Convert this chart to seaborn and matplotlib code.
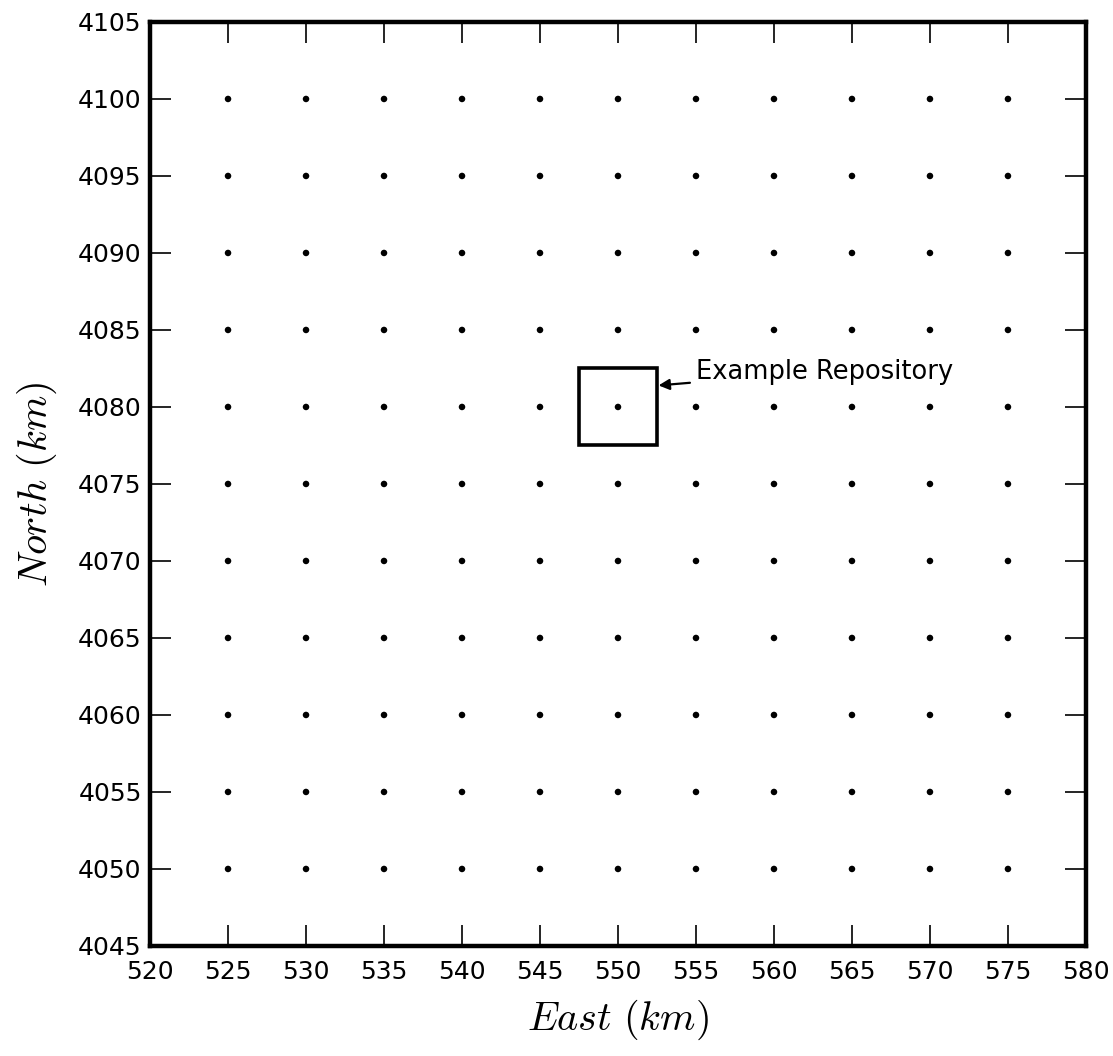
import numpy as np
import pandas as pd
import matplotlib
matplotlib.use("Agg")
import matplotlib.pyplot as plt
import seaborn as sns
from matplotlib.patches import Rectangle

# Data
east_km = [525, 530, 535, 540, 545, 550, 555, 560, 565, 570, 575]
north_km = [4050, 4055, 4060, 4065, 4070, 4075, 4080, 4085, 4090, 4095, 4100]
repo_center = (550, 4080)
repo_size = 5
x_ticks = [520, 525, 530, 535, 540, 545, 550, 555, 560, 565, 570, 575, 580]
y_ticks = [4045, 4050, 4055, 4060, 4065, 4070, 4075, 4080, 4085, 4090, 4095, 4100, 4105]
annotation_text = "Example Repository"

sns.set_theme(style="white")
plt.rcParams['font.family'] = ['DejaVu Sans']
plt.rcParams['mathtext.fontset'] = 'cm'

ee, nn = np.meshgrid(east_km, north_km)
df = pd.DataFrame({"East": ee.ravel(), "North": nn.ravel()})

fig = plt.figure(figsize=(11.13, 10.56), dpi=100)
ax = fig.add_axes([0.1348, 0.1042, 0.8409, 0.875])
sns.scatterplot(data=df, x="East", y="North", ax=ax, color="black", s=22,
                edgecolor="none", legend=False)

half = repo_size / 2
ax.add_patch(Rectangle((repo_center[0] - half, repo_center[1] - half), repo_size, repo_size,
                       fill=False, edgecolor="black", linewidth=2.6))
ax.annotate(annotation_text, xy=(552.6, 4081.4), xytext=(555.0, 4082.3),
            fontsize=18.5, va="center", ha="left", color="black",
            arrowprops=dict(arrowstyle="-|>", color="black", lw=1.6,
                            mutation_scale=16, shrinkA=2, shrinkB=0))

ax.set_xlim(520, 580)
ax.set_ylim(4045, 4105)
ax.set_xticks(x_ticks)
ax.set_yticks(y_ticks)
ax.tick_params(direction="in", length=15, width=1.2, top=True, right=True,
               bottom=True, left=True, labelsize=18, colors="black", pad=6)
ax.tick_params(axis="x", pad=10)
for s in ax.spines.values():
    s.set_linewidth(3.2)
    s.set_color("black")
ax.set_xlabel(r"$East\ (km)$", fontsize=29, labelpad=10, color="black")
ax.set_ylabel(r"$North\ (km)$", fontsize=29, labelpad=14, color="black")
ax.grid(False)

fig.savefig("out.png", dpi=100, facecolor="white")
